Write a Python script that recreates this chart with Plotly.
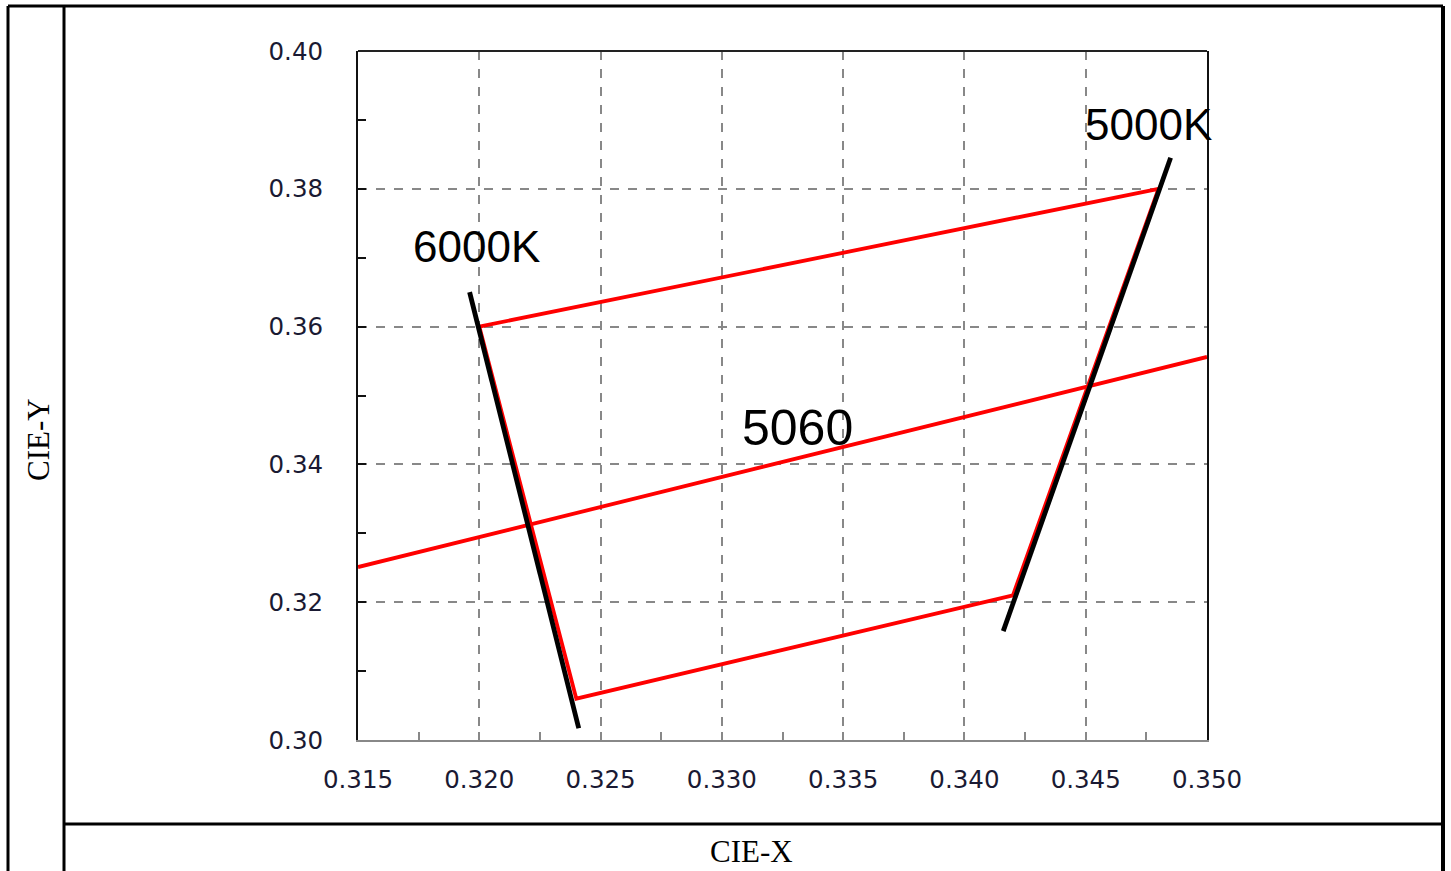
import plotly.graph_objects as go

# --- data (CIE x / y chromaticity) ---
box_x = [0.320, 0.348, 0.342, 0.324, 0.320]
box_y = [0.360, 0.380, 0.321, 0.306, 0.360]
center_x = [0.315, 0.350]
center_y = [0.3251, 0.3556]
cct6000_x = [0.3196, 0.3241]
cct6000_y = [0.3650, 0.3017]
cct5000_x = [0.3416, 0.3485]
cct5000_y = [0.3158, 0.3845]
label_text = ["6000K", "5000K", "5060"]
label_x = [0.3199, 0.3476, 0.3331]
label_y = [0.3716, 0.3893, 0.3453]
label_size = [44, 44, 50]

W, H = 1451, 871
L, R, T, B = 358, 1207, 51, 740


def px(xp):
    return (xp - L) / (R - L)


def py(yp):
    return (B - yp) / (B - T)


fig = go.Figure()
fig.add_trace(go.Scatter(x=box_x, y=box_y, mode="lines",
                         line=dict(color="#ff0000", width=3.8), hoverinfo="skip"))
fig.add_trace(go.Scatter(x=center_x, y=center_y, mode="lines",
                         line=dict(color="#ff0000", width=3.8), hoverinfo="skip"))
fig.add_trace(go.Scatter(x=cct6000_x, y=cct6000_y, mode="lines",
                         line=dict(color="#000000", width=4.8), hoverinfo="skip"))
fig.add_trace(go.Scatter(x=cct5000_x, y=cct5000_y, mode="lines",
                         line=dict(color="#000000", width=4.8), hoverinfo="skip"))

for t, x, y, s in zip(label_text, label_x, label_y, label_size):
    fig.add_annotation(x=x, y=y, text=t, showarrow=False,
                       font=dict(family="Liberation Sans, Arial", size=s, color="#000000"))

# axis titles as table cells
fig.add_annotation(xref="paper", yref="paper", x=px(751), y=py(851), text="CIE-X",
                   showarrow=False, xanchor="center", yanchor="middle",
                   font=dict(family="Liberation Serif, Times New Roman", size=31, color="#000"))
fig.add_annotation(xref="paper", yref="paper", x=px(38), y=py(440), text="CIE-Y",
                   showarrow=False, textangle=-90, xanchor="center", yanchor="middle",
                   font=dict(family="Liberation Serif, Times New Roman", size=31, color="#000"))

# frame lines (table borders)
frame = [
    (8, 6, 8, 871, 3), (64, 6, 64, 871, 3), (1443, 6, 1443, 871, 4),
    (8, 6, 1443, 6, 3), (64, 824, 1443, 824, 3),
]
for x0, y0, x1, y1, w in frame:
    fig.add_shape(type="line", xref="paper", yref="paper",
                  x0=px(x0), y0=py(y0), x1=px(x1), y1=py(y1),
                  line=dict(color="#000000", width=w))

# top axis border
fig.add_shape(type="line", xref="paper", yref="paper", x0=0, y0=1, x1=1, y1=1,
              line=dict(color="#222222", width=2))

fig.update_layout(
    width=W, height=H,
    margin=dict(l=L, r=W - R, t=T, b=H - B),
    paper_bgcolor="white", plot_bgcolor="white",
    showlegend=False,
    font=dict(family="DejaVu Sans, Verdana", size=24.5, color="#1a1a33"),
)
fig.update_xaxes(
    range=[0.315, 0.350], dtick=0.005, tick0=0.315, tickformat=".3f",
    showline=True, linecolor="#888888", linewidth=2,
    ticks="inside", ticklen=8, tickcolor="#888888", tickwidth=1.5,
    minor=dict(dtick=0.0025, ticks="inside", ticklen=8, tickcolor="#888888", showgrid=False),
    showgrid=True, gridcolor="#888888", gridwidth=1.5, griddash="dash",
    zeroline=False, ticklabelstandoff=17,
)
fig.update_yaxes(
    range=[0.30, 0.40], dtick=0.02, tick0=0.30, tickformat=".2f",
    showline=True, linecolor="#111111", linewidth=2, mirror=True,
    ticks="inside", ticklen=8, tickcolor="#111111", tickwidth=2,
    minor=dict(dtick=0.01, ticks="inside", ticklen=8, tickcolor="#111111", showgrid=False),
    showgrid=True, gridcolor="#888888", gridwidth=1.5, griddash="dash",
    zeroline=False, ticklabelstandoff=28,
)

fig.write_html("out.html", config={"displayModeBar": False},
               post_script="document.body.style.margin='0';")
